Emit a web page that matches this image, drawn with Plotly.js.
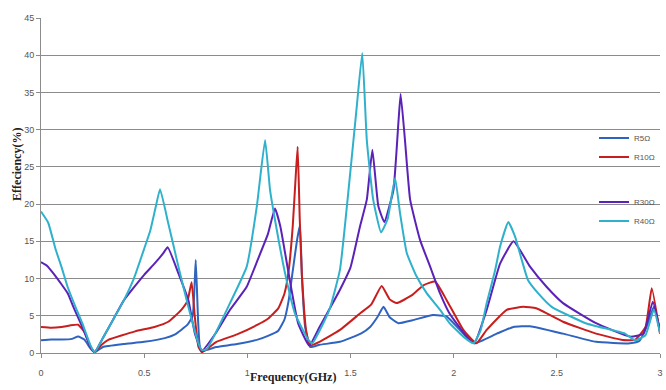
<!DOCTYPE html>
<html>
<head>
<meta charset="utf-8">
<script src="https://cdn.plot.ly/plotly-3.0.1.min.js"></script>
<style>html,body{margin:0;padding:0;background:#fff;}#chart{width:666px;height:390px;}</style>
</head>
<body>
<div id="chart"></div>
<script>
// Series names
const seriesNames = ["R5Ω", "R10Ω", "R30Ω", "R40Ω"];

// R5 Ω (blue)
const r5Freq = [0, 0.05, 0.1, 0.15, 0.18, 0.21, 0.24, 0.26, 0.3, 0.4, 0.5, 0.6, 0.65, 0.71, 0.735, 0.75, 0.762, 0.775, 0.85, 0.95, 1.05, 1.1, 1.15, 1.18, 1.2, 1.22, 1.24, 1.255, 1.265, 1.28, 1.305, 1.35, 1.449, 1.55, 1.595, 1.63, 1.66, 1.69, 1.732, 1.8, 1.9, 1.966, 2.047, 2.1, 2.209, 2.29, 2.37, 2.53, 2.69, 2.855, 2.9, 2.935, 2.97, 3.0];
const r5Val  = [1.7, 1.8, 1.8, 1.9, 2.2, 1.8, 0.6, 0.1, 0.8, 1.2, 1.5, 2.0, 2.5, 3.8, 5.0, 12.5, 4.0, 0.3, 0.8, 1.2, 1.8, 2.3, 3.0, 4.5, 7.0, 11.0, 15.0, 17.2, 10.0, 3.5, 0.8, 1.1, 1.5, 2.6, 3.5, 4.8, 6.2, 4.8, 4.0, 4.4, 5.1, 4.9, 2.6, 1.3, 2.6, 3.5, 3.6, 2.6, 1.5, 1.3, 1.6, 3.5, 6.2, 3.0];

// R10 Ω (red)
const r10Freq = [0, 0.05, 0.1, 0.14, 0.18, 0.213, 0.24, 0.26, 0.29, 0.326, 0.456, 0.55, 0.617, 0.68, 0.71, 0.73, 0.745, 0.763, 0.78, 0.85, 0.95, 1.05, 1.1, 1.15, 1.18, 1.2, 1.22, 1.235, 1.244, 1.254, 1.264, 1.285, 1.304, 1.35, 1.449, 1.55, 1.6, 1.651, 1.69, 1.724, 1.8, 1.853, 1.91, 1.966, 2.047, 2.11, 2.16, 2.257, 2.338, 2.4, 2.53, 2.69, 2.82, 2.88, 2.93, 2.96, 3.0];
const r10Val  = [3.5, 3.4, 3.5, 3.7, 3.8, 2.7, 0.8, 0.1, 1.0, 1.75, 2.9, 3.5, 4.2, 5.8, 7.0, 9.5, 5.0, 0.85, 0.1, 1.5, 2.5, 3.8, 4.6, 6.0, 8.0, 11.0, 17.0, 24.0, 27.7, 18.0, 10.7, 3.0, 1.0, 1.5, 3.1, 5.4, 6.5, 9.0, 7.2, 6.7, 7.8, 9.1, 9.6, 7.1, 3.1, 1.3, 3.1, 5.8, 6.2, 6.0, 4.2, 2.6, 1.75, 1.8, 3.5, 8.7, 2.6];

// R30 Ω (purple)
const r30Freq = [0, 0.03, 0.06, 0.1, 0.13, 0.16, 0.2, 0.24, 0.26, 0.3, 0.35, 0.4, 0.45, 0.5, 0.55, 0.59, 0.614, 0.666, 0.714, 0.746, 0.78, 0.85, 0.916, 0.997, 1.05, 1.1, 1.134, 1.16, 1.2, 1.246, 1.3, 1.35, 1.4, 1.449, 1.5, 1.546, 1.579, 1.606, 1.635, 1.664, 1.708, 1.732, 1.743, 1.764, 1.789, 1.837, 1.886, 1.934, 1.98, 2.063, 2.1, 2.16, 2.225, 2.29, 2.37, 2.45, 2.53, 2.69, 2.855, 2.92, 2.965, 3.0];
const r30Val  = [12.2, 11.7, 10.7, 9.2, 8.0, 6.0, 3.5, 0.8, 0.1, 2.0, 4.5, 7.0, 8.8, 10.5, 12.0, 13.3, 14.2, 10.7, 7.1, 2.6, 0.3, 2.8, 5.8, 8.9, 12.5, 16.0, 19.4, 17.0, 10.7, 4.0, 1.0, 3.5, 6.0, 8.5, 11.5, 17.0, 20.6, 27.3, 19.7, 17.6, 21.9, 30.9, 34.8, 28.6, 20.6, 15.2, 11.6, 8.0, 5.3, 2.2, 1.3, 5.8, 12.0, 15.0, 11.6, 8.9, 6.7, 4.0, 2.2, 2.6, 6.9, 3.0];

// R40 Ω (cyan)
const r40Freq = [0, 0.035, 0.07, 0.1, 0.13, 0.17, 0.2, 0.24, 0.26, 0.3, 0.35, 0.4, 0.45, 0.5, 0.53, 0.555, 0.577, 0.617, 0.666, 0.714, 0.763, 0.78, 0.803, 0.916, 0.997, 1.046, 1.086, 1.11, 1.134, 1.183, 1.231, 1.296, 1.315, 1.35, 1.4, 1.449, 1.498, 1.53, 1.557, 1.579, 1.61, 1.648, 1.68, 1.716, 1.74, 1.773, 1.82, 1.87, 1.934, 1.98, 2.047, 2.096, 2.13, 2.16, 2.2, 2.225, 2.265, 2.298, 2.33, 2.36, 2.41, 2.475, 2.64, 2.83, 2.88, 2.93, 2.97, 3.0];
const r40Val  = [19.0, 17.5, 14.0, 11.5, 8.8, 6.0, 4.0, 1.0, 0.1, 2.0, 4.5, 7.0, 10.0, 14.0, 16.5, 19.5, 22.0, 17.4, 11.6, 6.2, 1.3, 0.4, 0.5, 6.7, 11.6, 19.7, 28.6, 21.9, 17.9, 10.7, 5.3, 1.75, 1.3, 3.0, 6.0, 11.2, 24.0, 33.0, 40.3, 28.6, 20.6, 16.2, 18.0, 23.5, 18.8, 13.4, 10.3, 8.0, 5.8, 4.0, 2.2, 1.3, 3.0, 6.7, 11.0, 14.3, 17.6, 15.6, 12.5, 9.8, 8.0, 6.2, 4.0, 2.6, 1.7, 2.4, 5.8, 2.7];

// Axis ticks
const xTickVals = [0, 0.5, 1, 1.5, 2, 2.5, 3];
const xTickText = ["0", "0.5", "1", "1.5", "2", "2.5", "3"];
const yTickVals = [0, 5, 10, 15, 20, 25, 30, 35, 40, 45];

const colors = ["#2f63c0", "#c81e1e", "#5b22b8", "#2fb1cc"];
const freqs = [r5Freq, r10Freq, r30Freq, r40Freq];
const vals = [r5Val, r10Val, r30Val, r40Val];
const groups = ["a", "a", "b", "b"];

const traces = seriesNames.map((name, i) => ({
  type: "scatter",
  mode: "lines",
  name: name,
  x: freqs[i],
  y: vals[i],
  legendgroup: groups[i],
  line: {color: colors[i], width: 2, shape: "spline", smoothing: 0.4}
}));

const layout = {
  width: 666,
  height: 390,
  margin: {l: 41, r: 6, t: 18, b: 37},
  paper_bgcolor: "#ffffff",
  plot_bgcolor: "#ffffff",
  font: {family: "Liberation Sans, Arial, sans-serif", size: 9, color: "#555555"},
  showlegend: true,
  legend: {
    x: 1.0, xanchor: "right", y: 0.685, yanchor: "top",
    bgcolor: "rgba(0,0,0,0)",
    font: {family: "Liberation Sans, Arial, sans-serif", size: 8, color: "#555555"},
    itemwidth: 30,
    tracegroupgap: 26,
    traceorder: "grouped"
  },
  xaxis: {
    range: [0, 3],
    tickvals: xTickVals,
    ticktext: xTickText,
    showgrid: false,
    zeroline: false,
    showline: true,
    linecolor: "#8c8c8c",
    linewidth: 1,
    ticks: "outside",
    ticklen: 4,
    tickcolor: "#8c8c8c",
    ticklabelstandoff: 7,
    tickfont: {family: "Liberation Sans, Arial, sans-serif", size: 9, color: "#555555"}
  },
  yaxis: {
    range: [0, 45],
    tickvals: yTickVals,
    showgrid: true,
    gridcolor: "#8c8c8c",
    gridwidth: 1,
    zeroline: false,
    showline: true,
    linecolor: "#8c8c8c",
    linewidth: 1,
    ticks: "outside",
    ticklen: 4,
    tickcolor: "#8c8c8c",
    tickfont: {family: "Liberation Sans, Arial, sans-serif", size: 9, color: "#555555"}
  },
  annotations: [
    {
      text: "Frequency(GHz)", xref: "paper", yref: "paper",
      x: 0.407, y: -0.072, xanchor: "center", yanchor: "middle", showarrow: false,
      font: {family: "Liberation Serif, Times New Roman, serif", size: 12, color: "#222222", weight: "bold"}
    },
    {
      text: "Effeciency(%)", xref: "paper", yref: "paper",
      x: -0.039, y: 0.564, xanchor: "center", yanchor: "middle", showarrow: false, textangle: -90,
      font: {family: "Liberation Serif, Times New Roman, serif", size: 12, color: "#222222", weight: "bold"}
    }
  ]
};

Plotly.newPlot("chart", traces, layout, {displayModeBar: false, staticPlot: true});
</script>
</body>
</html>
